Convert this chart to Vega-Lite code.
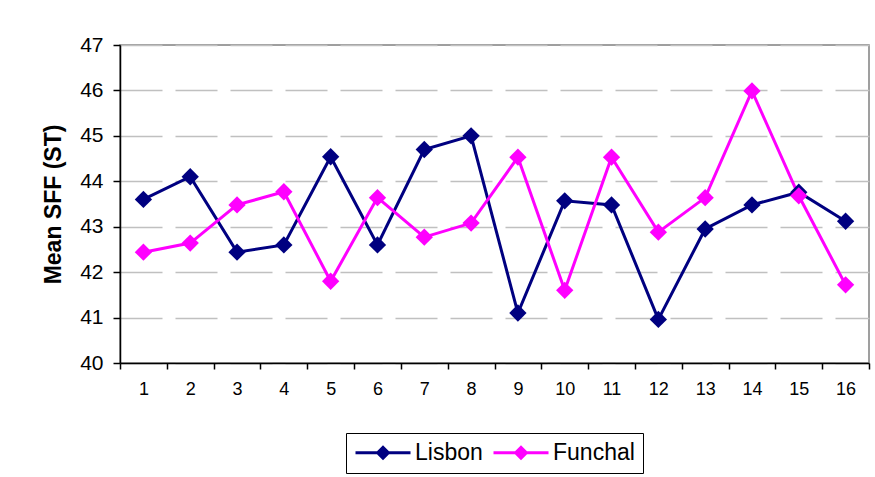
{
  "$schema": "https://vega.github.io/schema/vega-lite/v6.json",
  "width": 749,
  "height": 318,
  "autosize": "none",
  "padding": {"left": 120, "top": 45, "right": 6, "bottom": 114},
  "background": "white",
  "config": {
    "font": "Liberation Sans",
    "view": {"stroke": "#808080", "strokeWidth": 1.5}
  },
  "data": {
    "values": [
      {"item": 1, "city": "Lisbon", "sff": 43.6},
      {"item": 2, "city": "Lisbon", "sff": 44.1},
      {"item": 3, "city": "Lisbon", "sff": 42.44},
      {"item": 4, "city": "Lisbon", "sff": 42.6},
      {"item": 5, "city": "Lisbon", "sff": 44.54},
      {"item": 6, "city": "Lisbon", "sff": 42.6},
      {"item": 7, "city": "Lisbon", "sff": 44.7},
      {"item": 8, "city": "Lisbon", "sff": 45.0},
      {"item": 9, "city": "Lisbon", "sff": 41.1},
      {"item": 10, "city": "Lisbon", "sff": 43.57},
      {"item": 11, "city": "Lisbon", "sff": 43.48},
      {"item": 12, "city": "Lisbon", "sff": 40.96},
      {"item": 13, "city": "Lisbon", "sff": 42.95},
      {"item": 14, "city": "Lisbon", "sff": 43.48},
      {"item": 15, "city": "Lisbon", "sff": 43.76},
      {"item": 16, "city": "Lisbon", "sff": 43.12},
      {"item": 1, "city": "Funchal", "sff": 42.44},
      {"item": 2, "city": "Funchal", "sff": 42.64},
      {"item": 3, "city": "Funchal", "sff": 43.48},
      {"item": 4, "city": "Funchal", "sff": 43.77},
      {"item": 5, "city": "Funchal", "sff": 41.8},
      {"item": 6, "city": "Funchal", "sff": 43.64},
      {"item": 7, "city": "Funchal", "sff": 42.77},
      {"item": 8, "city": "Funchal", "sff": 43.08},
      {"item": 9, "city": "Funchal", "sff": 44.53},
      {"item": 10, "city": "Funchal", "sff": 41.6},
      {"item": 11, "city": "Funchal", "sff": 44.53},
      {"item": 12, "city": "Funchal", "sff": 42.88},
      {"item": 13, "city": "Funchal", "sff": 43.64},
      {"item": 14, "city": "Funchal", "sff": 45.99},
      {"item": 15, "city": "Funchal", "sff": 43.68},
      {"item": 16, "city": "Funchal", "sff": 41.72}
    ]
  },
  "encoding": {
    "x": {
      "field": "item",
      "type": "ordinal",
      "scale": {"paddingInner": 0, "paddingOuter": 0},
      "axis": {
        "title": null,
        "labelAngle": 0,
        "labelFontSize": 18,
        "labelColor": "black",
        "labelPadding": 11,
        "domainColor": "black",
        "domainWidth": 1.5,
        "tickColor": "black",
        "tickWidth": 1.5,
        "tickSize": 6,
        "tickBand": "extent",
        "grid": false
      }
    },
    "y": {
      "field": "sff",
      "type": "quantitative",
      "scale": {"domain": [40, 47], "nice": false, "zero": false},
      "axis": {
        "title": "Mean SFF (ST)",
        "titleFontSize": 23,
        "titleFontWeight": "bold",
        "titleColor": "black",
        "titlePadding": 14,
        "values": [40, 41, 42, 43, 44, 45, 46, 47],
        "labelFontSize": 21,
        "labelColor": "black",
        "labelPadding": 10,
        "domainColor": "black",
        "domainWidth": 1.5,
        "tickColor": "black",
        "tickWidth": 1.5,
        "tickSize": 7,
        "grid": true,
        "gridColor": "#c0c0c0",
        "gridWidth": 1.5,
        "gridDash": [42, 13]
      }
    },
    "color": {
      "field": "city",
      "type": "nominal",
      "scale": {"domain": ["Lisbon", "Funchal"], "range": ["#000080", "#ff00ff"]},
      "legend": {
        "title": null,
        "orient": "none",
        "legendX": 226,
        "legendY": 388,
        "direction": "horizontal",
        "columns": 2,
        "strokeColor": "black",
        "padding": 8,
        "labelFontSize": 23,
        "labelColor": "black",
        "labelOffset": 38,
        "columnPadding": 9,
        "symbolSize": 400,
        "symbolType": "M-1,-0.15H4.5V0.15H-1Z M1,0L1.75,-0.75L2.5,0L1.75,0.75Z",
        "symbolStrokeWidth": 0,
        "encode": {
          "symbols": {"update": {"fill": {"scale": "color", "field": "value"}, "opacity": {"value": 1}, "strokeWidth": {"value": 0}}}
        }
      }
    }
  },
  "layer": [
    {"mark": {"type": "line", "strokeWidth": 3}},
    {"mark": {"type": "point", "shape": "diamond", "filled": true, "size": 300, "opacity": 1}}
  ]
}
